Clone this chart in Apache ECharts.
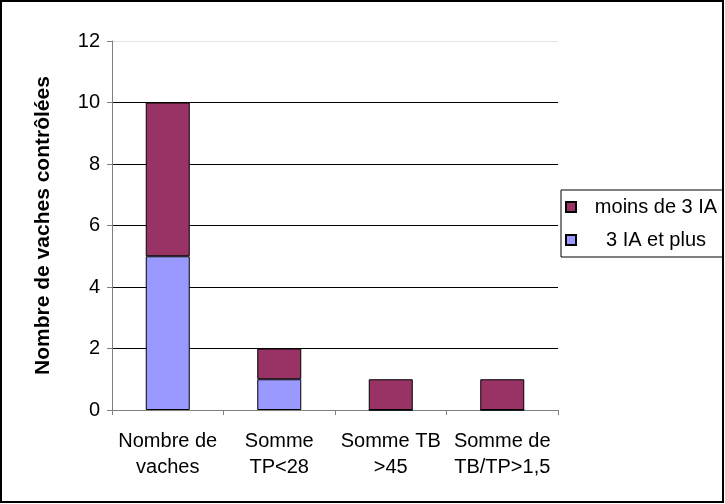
<!DOCTYPE html>
<html>
<head>
<meta charset="utf-8">
<script src="https://cdn.jsdelivr.net/npm/echarts@6/dist/echarts.min.js"></script>
<style>
  html, body { margin: 0; padding: 0; background: #fff; }
  #chart { width: 725px; height: 504px; }
</style>
</head>
<body>
<div id="chart"></div>
<script>
// données du graphique
const categories = ['Nombre de\nvaches', 'Somme\nTP<28', 'Somme TB\n>45', 'Somme de\nTB/TP>1,5'];
const troisIAetPlus = [5, 1, 0, 0];
const moinsDe3IA = [5, 1, 1, 1];
const yTicks = [0, 2, 4, 6, 8, 10, 12];

const chart = echarts.init(document.getElementById('chart'));

// lignes de grille : noires sauf la dernière (12) en gris clair
const gridColors = yTicks.map((v, i) => i === yTicks.length - 1 ? '#e4e4e4' : '#000');

const option = {
    backgroundColor: '#fff',
    animation: false,
    textStyle: { fontFamily: 'Liberation Sans, Arial, sans-serif' },
    graphic: [{
        type: 'rect',
        shape: { x: 1, y: 1, width: 722, height: 501 },
        style: { fill: 'none', stroke: '#000', lineWidth: 2 },
        silent: true
    }],
    grid: { left: 112, top: 41, right: 167, bottom: 94 },
    legend: {
        orient: 'vertical',
        left: 561,
        top: 190,
        data: [
            { name: 'moins de 3 IA', icon: 'rect' },
            { name: '3 IA et plus', icon: 'rect' }
        ],
        itemWidth: 10,
        itemHeight: 10,
        itemGap: 13,
        padding: [7, 4, 7, 4],
        borderColor: '#000',
        borderWidth: 1,
        formatter: name => '{c|' + name + '}',
        textStyle: {
            color: '#000',
            padding: [0, 0, 0, 12],
            rich: {
                c: { fontSize: 20, lineHeight: 22, width: 126, align: 'center', color: '#000' }
            }
        }
    },
    xAxis: {
        type: 'category',
        data: categories,
        axisLine: { lineStyle: { color: '#808080' } },
        axisTick: { show: true, length: 5, lineStyle: { color: '#808080' } },
        axisLabel: { fontSize: 20, color: '#000', lineHeight: 26, margin: 18, interval: 0 }
    },
    yAxis: {
        type: 'value',
        min: 0,
        max: 12,
        interval: 2,
        name: 'Nombre de vaches contrôlées',
        nameLocation: 'middle',
        nameGap: 58,
        nameTextStyle: { fontSize: 21, fontWeight: 'bold', color: '#000' },
        axisLine: { show: true, lineStyle: { color: '#808080' } },
        axisTick: { show: true, length: 5, lineStyle: { color: '#808080' } },
        axisLabel: { fontSize: 20, color: '#000', margin: 12 },
        splitLine: { lineStyle: { color: gridColors, width: 1 } }
    },
    series: [
        {
            name: '3 IA et plus',
            type: 'bar',
            stack: 'total',
            data: troisIAetPlus,
            barWidth: 44,
            itemStyle: { color: '#9999ff', borderColor: '#000', borderWidth: 1 }
        },
        {
            name: 'moins de 3 IA',
            type: 'bar',
            stack: 'total',
            data: moinsDe3IA,
            barWidth: 44,
            itemStyle: { color: '#993366', borderColor: '#000', borderWidth: 1 }
        }
    ]
};

chart.setOption(option);
</script>
</body>
</html>
